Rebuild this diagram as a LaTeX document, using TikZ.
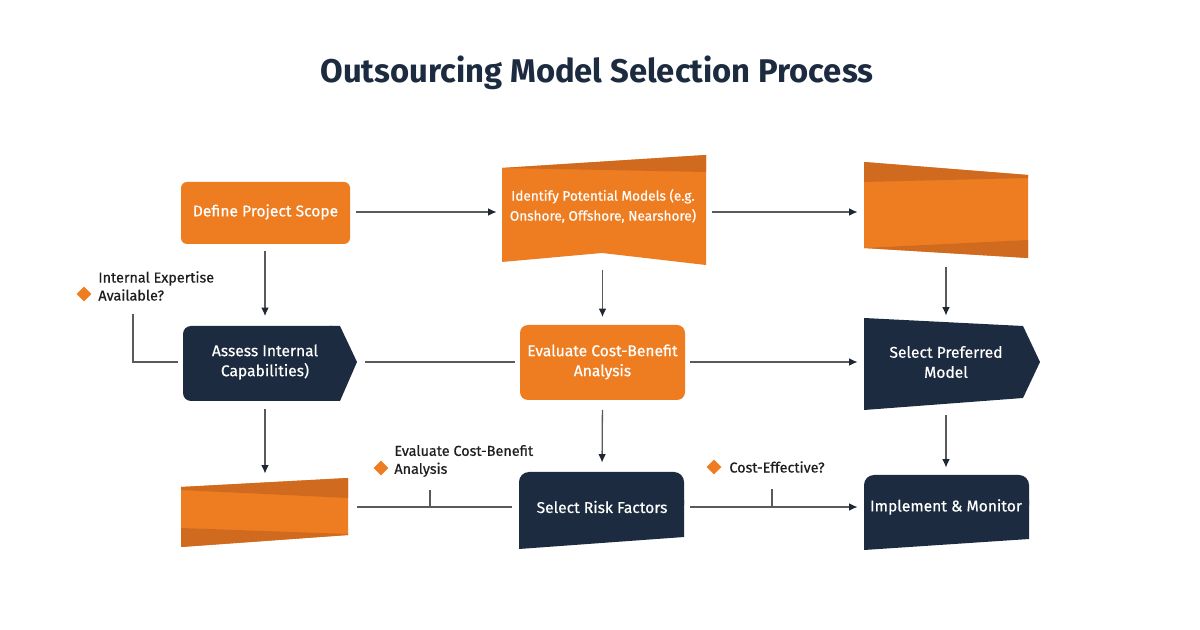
\documentclass[tikz,border=0pt]{standalone}
\usepackage{fontspec}
\setmainfont{Fira Sans}
\newfontfamily\medsans[FakeBold=0.5]{Fira Sans}
\usetikzlibrary{arrows.meta,shapes.geometric}

\definecolor{boxorange}{HTML}{EE7D22}
\definecolor{bandorange}{HTML}{D06A1F}
\definecolor{boxnavy}{HTML}{1C2B3F}
\definecolor{linegray}{HTML}{5A5A5A}
\definecolor{tipdark}{HTML}{1F2733}
\definecolor{labeldark}{HTML}{1E1E1E}

\newcommand{\boxfont}{\medsans\fontsize{7.8}{10}\selectfont}
\newcommand{\smallboxfont}{\medsans\fontsize{6.8}{10}\selectfont}
\newcommand{\labelfont}{\medsans\fontsize{7.2}{9}\selectfont}

\tikzset{
  boxtext/.style={inner sep=0pt, text=white, align=center, font=\boxfont},
  link/.style={draw=linegray, line width=0.65pt},
  flag/.style={diamond, fill=boxorange, inner sep=0pt, minimum width=7.5pt, minimum height=7.5pt},
  flagtext/.style={anchor=west, inner sep=0pt, align=left, text=labeldark, font=\labelfont}
}

\begin{document}
\begin{tikzpicture}[x=0.5pt,y=-0.5pt,>={Latex[length=4.2pt,width=3.8pt,color=tipdark]}]

    \fill[white] (0,0) rectangle (1200,630);
    \useasboundingbox (0,0) rectangle (1200,630);

    \node[font=\fontsize{16.4}{18}\selectfont\bfseries, text=boxnavy] (title) at (597,73) {Outsourcing Model Selection Process};

    % shapes, top row
    \fill[boxorange,rounded corners=3pt] (181,182) rectangle (350,244);
    \fill[boxorange] (502,168) -- (706,155) -- (706,265) -- (602,253) -- (502,262) -- cycle;
    \fill[bandorange] (502,168) -- (706,155) -- (706,172) -- cycle;
    \fill[boxorange] (864,162) -- (1028,175) -- (1028,258) -- (864,248) -- cycle;
    \fill[bandorange] (864,162) -- (1028,175) -- (1028,178) -- (864,182) -- cycle;
    \fill[bandorange] (864,248) -- (1028,258) -- (1028,240) -- cycle;

    % shapes, middle row
    \fill[boxnavy,rounded corners=4pt] (183,326) rectangle (340,401);
    \fill[boxnavy] (330,326) -- (340,326) -- (357,362) -- (340,401) -- (330,401) -- cycle;
    \fill[boxorange,rounded corners=4pt] (520,325) rectangle (685,400);
    \fill[boxnavy] (864,318) -- (1023,326) -- (1040,362) -- (1023,398) -- (864,410) -- cycle;

    % shapes, bottom row
    \fill[boxorange] (181,487) -- (348,478) -- (348,535) -- (181,547) -- cycle;
    \fill[bandorange] (181,487) -- (348,478) -- (348,498) -- (181,490) -- cycle;
    \fill[bandorange] (181,528) -- (348,534) -- (348,535) -- (181,547) -- cycle;
    \fill[boxnavy,rounded corners=5pt] (519,472) rectangle (684,515);
    \fill[boxnavy] (519,500) -- (684,500) -- (684,537) -- (519,549) -- cycle;
    \fill[boxnavy,rounded corners=5pt] (864,475) rectangle (1029,515);
    \fill[boxnavy] (864,500) -- (1029,500) -- (1029,539) -- (864,550) -- cycle;

    % text holders
    \node[boxtext,minimum width=84.5pt,minimum height=31pt] (scope) at (265.5,212) {Define Project Scope};
    \node[boxtext,minimum width=102pt,minimum height=50pt] (models) at (604,212) {};
    \node[boxtext,font=\smallboxfont] (modeltext) at (603,206) {Identify Potential Models (e.g.\\Onshore, Offshore, Nearshore)};
    \node[boxtext,minimum width=82pt,minimum height=48pt] (blankone) at (946,212) {};

    \node[boxtext,minimum width=82pt,minimum height=37.5pt] (assess) at (265,362) {Assess Internal\\Capabilities)};
    \node[boxtext,minimum width=82.5pt,minimum height=37.5pt] (evaluate) at (602.5,362) {Evaluate Cost-Benefit\\Analysis};
    \node[boxtext,minimum width=82pt,minimum height=40pt] (preferred) at (946,362) {Select Preferred\\Model};

    \node[boxtext,minimum width=84pt,minimum height=30pt] (blanktwo) at (265,507) {};
    \node[boxtext,minimum width=82.5pt,minimum height=35pt] (risk) at (602,507) {Select Risk Factors};
    \node[boxtext,minimum width=82.5pt,minimum height=35pt] (implement) at (946,507) {Implement \& Monitor};

    % decision labels
    \node[flag] (expflag) at (84,294) {};
    \node[flagtext] (explabel) at (98,286) {Internal Expertise\\Available?};
    \node[flag] (cbflag) at (381,468) {};
    \node[flagtext] (cblabel) at (394,461) {Evaluate Cost-Benefit\\Analysis};
    \node[flag] (ceflag) at (714,467) {};
    \node[flagtext] (celabel) at (729,467) {Cost-Effective?};

    \coordinate (expfoot) at (133,314);
    \coordinate (cbtick) at (430,490);
    \coordinate (cetick) at (772,489);

    % row connectors
    \draw[link,->,shorten <=3pt,shorten >=2.5pt] (scope.east) -- (models.west);
    \draw[link,->,shorten <=3pt,shorten >=3pt] (models.east) -- (blankone.west);
    \draw[link,shorten <=9pt,shorten >=2.5pt] (assess.east) -- (evaluate.west);
    \draw[link,->,shorten <=2.5pt,shorten >=3pt] (evaluate.east) -- (preferred.west);
    \draw[link,shorten <=4pt,shorten >=3.75pt] (blanktwo.east) -- (risk.west);
    \draw[link,->,shorten <=2.75pt,shorten >=2.75pt] (risk.east) -- (implement.west);

    % column connectors
    \draw[link,->,shorten <=4pt,shorten >=4pt] (scope.south -| assess.north) -- (assess.north);
    \draw[link,->,shorten <=4pt,shorten >=3.5pt] (models.south -| evaluate.north) -- (evaluate.north);
    \draw[link,->,shorten <=3.5pt,shorten >=3pt] (blankone.south) -- (preferred.north);
    \draw[link,->,shorten <=4.75pt,shorten >=1.5pt] (assess.south) -- (blanktwo.north);
    \draw[link,->,shorten <=5pt,shorten >=4.5pt] (evaluate.south) -- (risk.north);
    \draw[link,->,shorten <=6.5pt,shorten >=2pt] (preferred.south) -- (implement.north);

    % decision branches
    \draw[link,shorten >=2.5pt] (expfoot) |- (assess.west);
    \draw[link] (cbtick) -- (cbtick |- risk.west);
    \draw[link] (cetick) -- (cetick |- implement.west);

\end{tikzpicture}
\end{document}
